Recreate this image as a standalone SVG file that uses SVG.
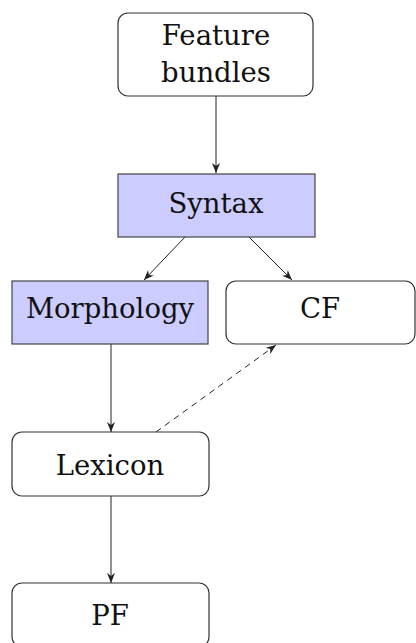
<svg xmlns="http://www.w3.org/2000/svg" width="416" height="643" viewBox="0 0 416 643">
<style>
.box{fill:#ffffff;stroke:#333;stroke-width:1.2}
.hl{fill:#ccccff;stroke:#444;stroke-width:1.2}
.t{font-family:"DejaVu Serif",serif;font-size:27.5px;fill:#111;text-anchor:middle}
.c{fill:none;stroke:#222;stroke-width:1}
.d{stroke-dasharray:6,5}
</style>
<defs>
<marker id="ah" viewBox="0 0 10 10" refX="10" refY="5" markerWidth="10" markerHeight="10" markerUnits="userSpaceOnUse" orient="auto">
<path d="M0,1 L10,5 L0,9 L3,5 Z" fill="#222"/>
</marker>
</defs>
<g id="connectors">
<line class="c" x1="216" y1="96" x2="216" y2="173" marker-end="url(#ah)"/>
<line class="c" x1="185" y1="237" x2="144" y2="280" marker-end="url(#ah)"/>
<line class="c" x1="249" y1="237" x2="292" y2="280" marker-end="url(#ah)"/>
<line class="c" x1="111" y1="344" x2="111" y2="432" marker-end="url(#ah)"/>
<line class="c d" x1="156" y1="432" x2="276" y2="345" marker-end="url(#ah)"/>
<line class="c" x1="111" y1="496" x2="111" y2="583" marker-end="url(#ah)"/>
</g>
<g id="feature-bundles">
<rect class="box" x="118" y="13" width="195" height="83" rx="10"/>
<text class="t" x="216" y="45">Feature</text>
<text class="t" x="216" y="82">bundles</text>
</g>
<g id="syntax">
<rect class="hl" x="118" y="174" width="197" height="63"/>
<text class="t" x="216" y="213">Syntax</text>
</g>
<g id="morphology">
<rect class="hl" x="12" y="281" width="196" height="63"/>
<text class="t" x="110" y="318">Morphology</text>
</g>
<g id="cf">
<rect class="box" x="226" y="281" width="189" height="63" rx="10"/>
<text class="t" x="320" y="318">CF</text>
</g>
<g id="lexicon">
<rect class="box" x="12" y="432" width="197" height="64" rx="10"/>
<text class="t" x="110" y="475">Lexicon</text>
</g>
<g id="pf">
<rect class="box" x="12" y="583" width="197" height="64" rx="10"/>
<text class="t" x="110" y="625">PF</text>
</g>
</svg>
